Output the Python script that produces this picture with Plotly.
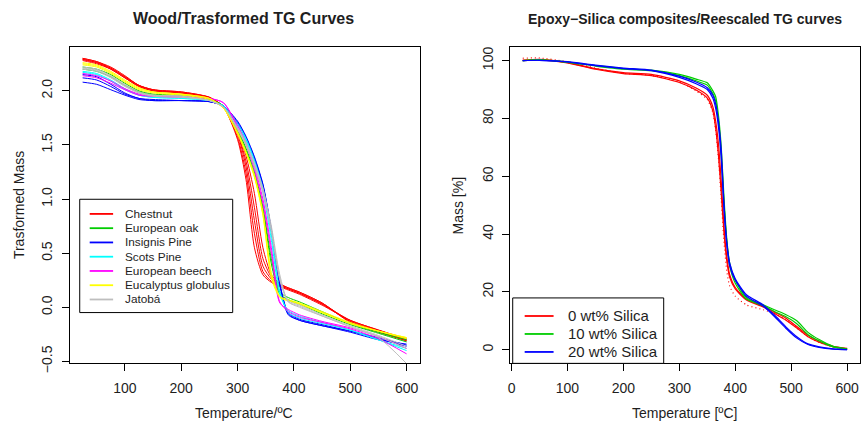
import plotly.graph_objects as go

# ---------------- Data: left panel (wood, transformed TG) ----------------
wood_temp = [25, 50, 75, 100, 125, 150, 200, 250, 275, 300, 315, 330, 345, 360, 375, 390, 410, 450, 500, 550, 600]

chestnut = [
    [2.30, 2.27, 2.22, 2.14, 2.05, 2.01, 1.99, 1.94, 1.85, 1.55, 1.18, 0.55, 0.30, 0.23, 0.19, 0.16, 0.12, 0.02, -0.12, -0.21, -0.29],
    [2.30, 2.27, 2.21, 2.13, 2.05, 2.01, 1.99, 1.94, 1.85, 1.57, 1.24, 0.68, 0.33, 0.24, 0.20, 0.17, 0.13, 0.03, -0.12, -0.21, -0.30],
    [2.29, 2.26, 2.21, 2.13, 2.05, 2.01, 1.98, 1.94, 1.85, 1.60, 1.30, 0.80, 0.38, 0.26, 0.20, 0.17, 0.13, 0.03, -0.13, -0.22, -0.30],
    [2.29, 2.26, 2.20, 2.12, 2.04, 2.00, 1.98, 1.93, 1.86, 1.61, 1.35, 0.92, 0.45, 0.28, 0.21, 0.18, 0.14, 0.04, -0.13, -0.22, -0.31],
    [2.28, 2.25, 2.20, 2.12, 2.04, 2.00, 1.98, 1.93, 1.86, 1.63, 1.40, 1.05, 0.55, 0.30, 0.22, 0.18, 0.14, 0.04, -0.14, -0.23, -0.31],
]
european_oak = [
    [2.22, 2.20, 2.15, 2.07, 2.00, 1.97, 1.96, 1.92, 1.86, 1.62, 1.45, 1.22, 0.90, 0.40, 0.12, 0.07, 0.03, -0.06, -0.16, -0.24, -0.32],
    [2.20, 2.18, 2.13, 2.05, 1.99, 1.96, 1.95, 1.92, 1.86, 1.64, 1.47, 1.25, 0.93, 0.45, 0.14, 0.09, 0.05, -0.04, -0.15, -0.23, -0.30],
]
insignis_pine = [
    [2.08, 2.06, 2.01, 1.96, 1.92, 1.91, 1.91, 1.90, 1.86, 1.72, 1.58, 1.39, 1.14, 0.72, 0.22, -0.05, -0.11, -0.16, -0.22, -0.28, -0.35],
    [2.15, 2.13, 2.06, 1.98, 1.93, 1.92, 1.91, 1.90, 1.86, 1.70, 1.56, 1.37, 1.12, 0.70, 0.20, -0.07, -0.12, -0.17, -0.22, -0.29, -0.36],
    [2.12, 2.10, 2.04, 1.97, 1.93, 1.91, 1.91, 1.90, 1.86, 1.71, 1.57, 1.38, 1.13, 0.71, 0.21, -0.06, -0.12, -0.17, -0.23, -0.30, -0.34],
]
scots_pine = [
    [2.18, 2.16, 2.10, 2.02, 1.96, 1.94, 1.93, 1.91, 1.86, 1.70, 1.56, 1.36, 1.10, 0.68, 0.15, -0.05, -0.10, -0.15, -0.21, -0.30, -0.40],
    [2.17, 2.15, 2.09, 2.01, 1.96, 1.94, 1.93, 1.91, 1.86, 1.68, 1.54, 1.33, 1.06, 0.62, 0.12, -0.03, -0.08, -0.14, -0.21, -0.30, -0.38],
]
european_beech = [
    [2.16, 2.14, 2.09, 2.02, 1.97, 1.95, 1.95, 1.93, 1.89, 1.68, 1.52, 1.30, 1.00, 0.55, 0.05, -0.04, -0.09, -0.14, -0.20, -0.29, -0.43],
    [2.14, 2.12, 2.07, 2.01, 1.96, 1.95, 1.94, 1.93, 1.89, 1.66, 1.50, 1.27, 0.96, 0.50, 0.04, -0.02, -0.07, -0.13, -0.19, -0.27, -0.38],
]
eucalyptus = [
    [2.26, 2.24, 2.18, 2.10, 2.03, 1.99, 1.97, 1.93, 1.84, 1.60, 1.42, 1.20, 0.85, 0.27, 0.09, 0.06, 0.03, -0.05, -0.15, -0.22, -0.28],
    [2.25, 2.23, 2.17, 2.09, 2.02, 1.99, 1.97, 1.93, 1.84, 1.61, 1.43, 1.21, 0.86, 0.30, 0.10, 0.06, 0.03, -0.05, -0.15, -0.22, -0.28],
    [2.24, 2.22, 2.16, 2.08, 2.01, 1.98, 1.96, 1.92, 1.84, 1.62, 1.44, 1.22, 0.88, 0.32, 0.10, 0.07, 0.04, -0.04, -0.14, -0.22, -0.29],
]
jatoba = [
    [2.22, 2.20, 2.14, 2.06, 1.99, 1.96, 1.95, 1.91, 1.85, 1.66, 1.52, 1.33, 1.10, 0.75, 0.30, 0.05, 0.00, -0.08, -0.18, -0.28, -0.52],
    [2.21, 2.19, 2.13, 2.05, 1.98, 1.96, 1.95, 1.91, 1.85, 1.65, 1.51, 1.32, 1.08, 0.72, 0.27, 0.05, 0.01, -0.08, -0.18, -0.27, -0.38],
    [2.20, 2.18, 2.12, 2.04, 1.98, 1.95, 1.94, 1.91, 1.85, 1.64, 1.50, 1.30, 1.06, 0.70, 0.25, 0.06, 0.02, -0.07, -0.17, -0.26, -0.36],
]
wood_names = ["Chestnut", "European oak", "Insignis Pine", "Scots Pine",
              "European beech", "Eucalyptus globulus", "Jatobá"]
wood_series = [chestnut, european_oak, insignis_pine, scots_pine, european_beech, eucalyptus, jatoba]
wood_colors = ["#FF0000", "#00CD00", "#0000FF", "#00FFFF", "#FF00FF", "#FFFF00", "#BEBEBE"]

wood_xticks = [100, 200, 300, 400, 500, 600]
wood_yticks = [-0.5, 0.0, 0.5, 1.0, 1.5, 2.0]
wood_yticklabels = ["\u22120.5", "0.0", "0.5", "1.0", "1.5", "2.0"]

# ---------------- Data: right panel (epoxy-silica) ----------------
epoxy_temp = [20, 50, 100, 150, 200, 250, 300, 330, 350, 360, 365, 370, 375, 380, 385, 390, 400, 420, 450, 470, 490, 510, 530, 550, 575, 600]

silica0 = [
    [100.2, 100.4, 99.3, 97.2, 95.8, 95.2, 93.0, 90.5, 88.0, 84.0, 79.0, 71.0, 58.0, 42.0, 32.0, 26.0, 21.5, 17.5, 15.0, 13.0, 11.0, 8.0, 5.0, 3.0, 1.2, 0.5],
    [100.0, 100.2, 99.2, 97.0, 95.5, 94.8, 92.4, 89.8, 87.0, 82.5, 76.5, 67.0, 54.0, 40.0, 30.5, 25.0, 21.0, 17.2, 14.8, 12.5, 10.3, 7.5, 4.5, 2.6, 1.0, 0.3],
]
silica0_dotted = [
    [100.8, 100.9, 99.6, 97.4, 95.6, 94.9, 92.6, 89.5, 86.5, 82.0, 76.0, 66.0, 52.0, 37.0, 27.0, 22.0, 18.5, 15.5, 13.8, 12.5, 10.5, 7.5, 4.5, 2.5, 1.0, 0.2],
]
silica10 = [
    [100.0, 100.3, 99.5, 98.3, 97.2, 96.7, 95.2, 93.6, 92.3, 89.5, 87.5, 81.0, 70.0, 52.0, 38.0, 30.0, 24.0, 18.0, 15.5, 13.8, 12.2, 10.0, 6.0, 3.5, 1.2, 0.3],
    [100.0, 100.2, 99.4, 98.1, 97.0, 96.5, 94.8, 93.0, 91.5, 88.5, 86.0, 79.0, 67.0, 50.0, 37.0, 29.0, 23.0, 17.5, 15.2, 13.2, 11.5, 9.0, 5.2, 3.0, 1.0, 0.2],
]
silica20 = [
    [100.0, 100.1, 99.6, 98.4, 97.4, 96.7, 94.6, 92.6, 90.6, 88.0, 85.0, 79.0, 69.0, 50.0, 37.0, 30.0, 24.5, 19.0, 15.5, 12.0, 8.0, 4.5, 2.0, 1.0, 0.3, 0.0],
    [100.0, 100.1, 99.5, 98.2, 97.2, 96.5, 94.2, 92.0, 90.0, 87.0, 83.5, 77.0, 66.0, 48.0, 36.0, 29.0, 24.0, 18.5, 15.0, 11.5, 7.5, 4.0, 1.8, 0.8, 0.2, 0.0],
]
epoxy_names = ["0 wt% Silica", "10 wt% Silica", "20 wt% Silica"]
epoxy_colors = ["#FF0000", "#00CD00", "#0000FF"]
epoxy_xticks = [0, 100, 200, 300, 400, 500, 600]
epoxy_yticks = [0, 20, 40, 60, 80, 100]

# ---------------- Figure ----------------
W, H = 861, 431
FONT = "Liberation Sans, Arial, Helvetica, sans-serif"
TXT = "#1e1e1e"

def px(x):
    return x / W

def py(y):
    return 1 - y / H

fig = go.Figure()

for name, reps, col in zip(wood_names, wood_series, wood_colors):
    for r in reps:
        fig.add_trace(go.Scatter(x=wood_temp, y=r, mode="lines",
                                 line=dict(color=col, width=1, shape="spline", smoothing=0.7),
                                 name=name, showlegend=False, xaxis="x", yaxis="y",
                                 hoverinfo="skip"))

for reps, col, dash in [(silica0, epoxy_colors[0], "solid"),
                        (silica0_dotted, epoxy_colors[0], "1px,3px"),
                        (silica10, epoxy_colors[1], "solid"),
                        (silica20, epoxy_colors[2], "solid")]:
    for r in reps:
        fig.add_trace(go.Scatter(x=epoxy_temp, y=r, mode="lines",
                                 line=dict(color=col, width=1.2, shape="spline", smoothing=0.6, dash=dash),
                                 showlegend=False, xaxis="x2", yaxis="y2", hoverinfo="skip"))

axis_common = dict(showline=True, mirror=True, linecolor="black", linewidth=1,
                   ticks="outside", ticklen=7, tickcolor="black", tickwidth=1,
                   showgrid=False, zeroline=False,
                   tickfont=dict(family=FONT, size=14, color=TXT))

fig.update_layout(
    width=W, height=H, margin=dict(l=0, r=0, t=0, b=0),
    paper_bgcolor="white", plot_bgcolor="white", showlegend=False,
    xaxis=dict(domain=[px(67), px(418)], range=[2.2, 623], tickvals=wood_xticks,
               ticklabelstandoff=5, anchor="y", **axis_common),
    yaxis=dict(domain=[py(372), py(48)], range=[-0.518, 2.406], tickvals=wood_yticks,
               ticktext=wood_yticklabels, tickangle=-90, ticklabelstandoff=4, anchor="x", **axis_common),
    xaxis2=dict(domain=[px(509), px(860)], range=[-2.3, 623], tickvals=epoxy_xticks,
                ticklabelstandoff=5, anchor="y2", **axis_common),
    yaxis2=dict(domain=[py(372), py(48)], range=[-4.73, 104.73], tickvals=epoxy_yticks,
                tickangle=-90, ticklabelstandoff=4, anchor="x2", **axis_common),
)

ann = []
def text(x, y, s, size, bold=False, angle=0, xanchor="center"):
    ann.append(dict(x=px(x), y=py(y), xref="paper", yref="paper", text=f"<b>{s}</b>" if bold else s,
                    showarrow=False, xanchor=xanchor, yanchor="middle", textangle=angle,
                    font=dict(family=FONT, size=size, color=TXT)))

text(241, 19, "Wood/Trasformed TG Curves", 16, bold=True)
text(684.5, 19, "Epoxy\u2212Silica composites/Reescaled TG curves", 14, bold=True)
text(242, 423, "Temperature/ºC", 14)
text(684, 423, "Temperature [ºC]", 14)
text(16, 210, "Trasformed Mass", 14, angle=-90)
text(457, 210, "Mass [%]", 14, angle=-90)

shapes = []
# left legend
shapes.append(dict(type="rect", xref="paper", yref="paper", x0=px(77), x1=px(230.5), y0=py(320), y1=py(204),
                   line=dict(color="black", width=1), fillcolor="white", layer="above"))
for i, (name, col) in enumerate(zip(wood_names, wood_colors)):
    yy = 219 + i * 14.6
    shapes.append(dict(type="line", xref="paper", yref="paper", x0=px(87), x1=px(110.5), y0=py(yy), y1=py(yy),
                       line=dict(color=col, width=1.8), layer="above"))
    text(120.5, yy, name, 11.8, xanchor="left")
# right legend
shapes.append(dict(type="rect", xref="paper", yref="paper", x0=px(511.5), x1=px(663), y0=py(372), y1=py(305),
                   line=dict(color="black", width=1), fillcolor="white", layer="above"))
for i, (name, col) in enumerate(zip(epoxy_names, epoxy_colors)):
    yy = 323.5 + i * 18.4
    shapes.append(dict(type="line", xref="paper", yref="paper", x0=px(523.5), x1=px(552.5), y0=py(yy), y1=py(yy),
                       line=dict(color=col, width=1.8), layer="above"))
    text(565, yy, name, 15, xanchor="left")

fig.update_layout(annotations=ann, shapes=shapes)
fig.write_html("out.html")
